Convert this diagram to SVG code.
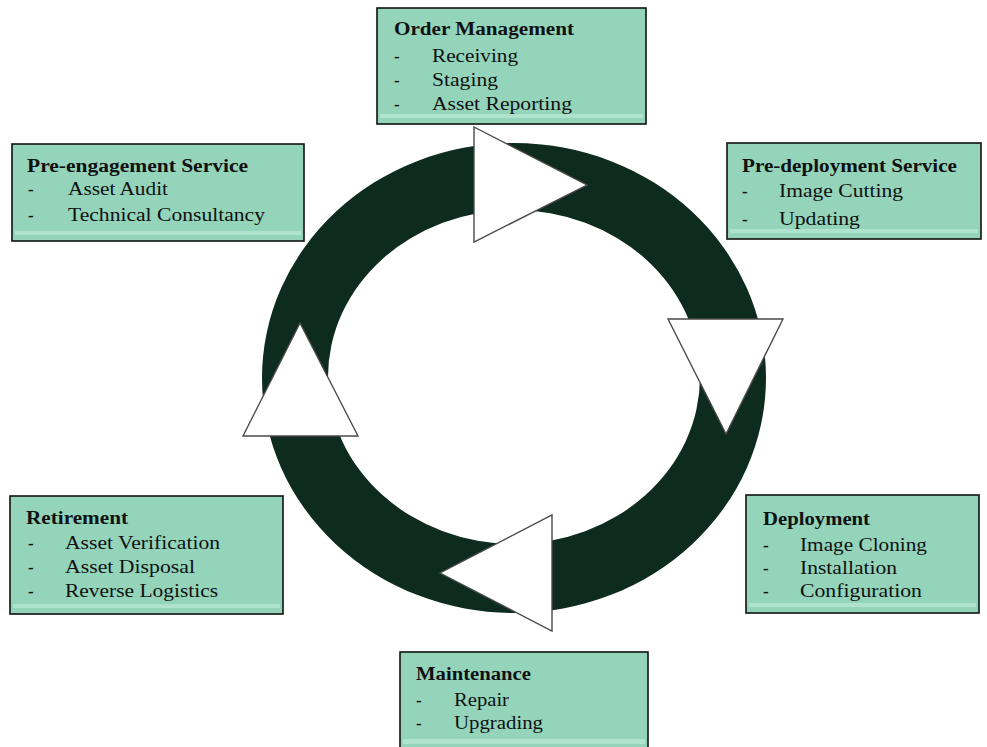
<svg xmlns="http://www.w3.org/2000/svg" width="987" height="747" viewBox="0 0 987 747">
  <defs>
    <style>
      .box { fill: #93d4ba; stroke: #111; stroke-width: 1.6; }
      .band { fill: #b8e6d3; opacity: 0.8; }
      .title { font-family: "Liberation Serif", "Times New Roman", serif; font-weight: bold; font-size: 18.5px; fill: #111; }
      .item { font-family: "Liberation Serif", "Times New Roman", serif; font-size: 19px; fill: #111; }
      .dash { font-family: "Liberation Serif", serif; font-weight: bold; font-size: 17px; fill: #111; }
      .ring { fill: #0e2b20; fill-rule: evenodd; }
      .head { fill: #ffffff; stroke: #4a4a4a; stroke-width: 1.4; stroke-linejoin: miter; }
    </style>
  </defs>
  <rect width="987" height="747" fill="#ffffff"/>

  <!-- cycle ring with direction arrowheads -->
  <g id="connectors">
    <path class="ring" d="M262,378 A252,235 0 1,0 766,378 A252,235 0 1,0 262,378 Z M328,377 A186,167 0 1,0 700,377 A186,167 0 1,0 328,377 Z"/>
    <polygon class="head" points="474,127 587,185 474,242"/>
    <polygon class="head" points="668,319 783,319 726,434"/>
    <polygon class="head" points="552,515 552,631 440,573"/>
    <polygon class="head" points="300,323 243,436 358,436"/>
  </g>

  <g id="order-management">
    <rect class="box" x="377" y="8" width="269" height="116"/>
    <rect class="band" x="380" y="114" width="263" height="4"/>
    <text class="title" x="394" y="35" textLength="180" lengthAdjust="spacingAndGlyphs">Order Management</text>
    <text class="dash" x="394" y="62">-</text>
    <text class="item" x="432" y="62" textLength="86" lengthAdjust="spacingAndGlyphs">Receiving</text>
    <text class="dash" x="394" y="86">-</text>
    <text class="item" x="432" y="86" textLength="66" lengthAdjust="spacingAndGlyphs">Staging</text>
    <text class="dash" x="394" y="110">-</text>
    <text class="item" x="432" y="110" textLength="140" lengthAdjust="spacingAndGlyphs">Asset Reporting</text>
  </g>

  <g id="pre-engagement">
    <rect class="box" x="12" y="144" width="292" height="97"/>
    <rect class="band" x="15" y="231" width="286" height="4"/>
    <text class="title" x="27" y="172" textLength="221" lengthAdjust="spacingAndGlyphs">Pre-engagement Service</text>
    <text class="dash" x="28" y="195">-</text>
    <text class="item" x="68" y="195" textLength="100" lengthAdjust="spacingAndGlyphs">Asset Audit</text>
    <text class="dash" x="28" y="221">-</text>
    <text class="item" x="68" y="221" textLength="197" lengthAdjust="spacingAndGlyphs">Technical Consultancy</text>
  </g>

  <g id="pre-deployment">
    <rect class="box" x="727" y="143" width="254" height="96"/>
    <rect class="band" x="730" y="229" width="248" height="4"/>
    <text class="title" x="742" y="172" textLength="215" lengthAdjust="spacingAndGlyphs">Pre-deployment Service</text>
    <text class="dash" x="742" y="197">-</text>
    <text class="item" x="779" y="197" textLength="124" lengthAdjust="spacingAndGlyphs">Image Cutting</text>
    <text class="dash" x="742" y="225">-</text>
    <text class="item" x="779" y="225" textLength="81" lengthAdjust="spacingAndGlyphs">Updating</text>
  </g>

  <g id="retirement">
    <rect class="box" x="10" y="496" width="273" height="118"/>
    <rect class="band" x="13" y="604" width="267" height="4"/>
    <text class="title" x="26" y="524" textLength="102" lengthAdjust="spacingAndGlyphs">Retirement</text>
    <text class="dash" x="28" y="549">-</text>
    <text class="item" x="65" y="549" textLength="155" lengthAdjust="spacingAndGlyphs">Asset Verification</text>
    <text class="dash" x="28" y="573">-</text>
    <text class="item" x="65" y="573" textLength="130" lengthAdjust="spacingAndGlyphs">Asset Disposal</text>
    <text class="dash" x="28" y="597">-</text>
    <text class="item" x="65" y="597" textLength="153" lengthAdjust="spacingAndGlyphs">Reverse Logistics</text>
  </g>

  <g id="deployment">
    <rect class="box" x="746" y="495" width="233" height="118"/>
    <rect class="band" x="749" y="603" width="227" height="4"/>
    <text class="title" x="763" y="525" textLength="107" lengthAdjust="spacingAndGlyphs">Deployment</text>
    <text class="dash" x="763" y="551">-</text>
    <text class="item" x="800" y="551" textLength="127" lengthAdjust="spacingAndGlyphs">Image Cloning</text>
    <text class="dash" x="763" y="574">-</text>
    <text class="item" x="800" y="574" textLength="97" lengthAdjust="spacingAndGlyphs">Installation</text>
    <text class="dash" x="763" y="597">-</text>
    <text class="item" x="800" y="597" textLength="122" lengthAdjust="spacingAndGlyphs">Configuration</text>
  </g>

  <g id="maintenance">
    <rect class="box" x="400" y="652" width="248" height="110"/>
    <rect class="band" x="403" y="739" width="242" height="5"/>
    <text class="title" x="416" y="680" textLength="115" lengthAdjust="spacingAndGlyphs">Maintenance</text>
    <text class="dash" x="416" y="706">-</text>
    <text class="item" x="454" y="706" textLength="55" lengthAdjust="spacingAndGlyphs">Repair</text>
    <text class="dash" x="416" y="729">-</text>
    <text class="item" x="454" y="729" textLength="89" lengthAdjust="spacingAndGlyphs">Upgrading</text>
  </g>
</svg>
